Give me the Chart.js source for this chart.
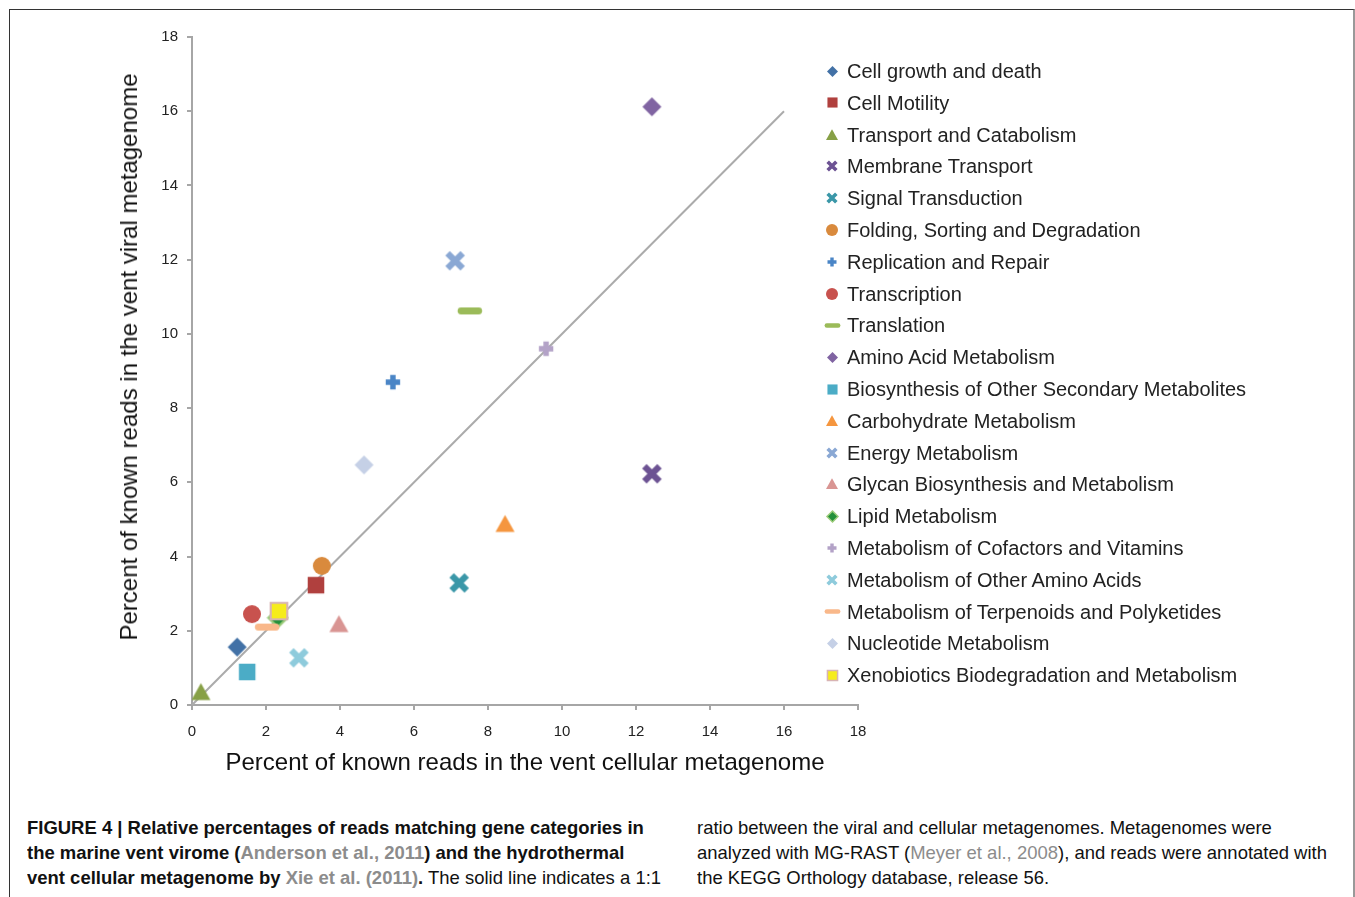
<!DOCTYPE html>
<html>
<head>
<meta charset="utf-8">
<script src="https://cdn.jsdelivr.net/npm/chart.js@4.4.1/dist/chart.umd.min.js"></script>
<style>
  body { margin: 0; background: #fff; font-family: "Liberation Sans", Arial, sans-serif; color: #222; }
  #page { position: relative; width: 1355px; height: 897px; overflow: hidden; }
  #frame { position: absolute; left: 9px; top: 9px; width: 1343px; height: 900px;
           border-top: 1.5px solid #333; border-left: 1.5px solid #333; border-right: 2px solid #999; }
  #wrap { position: absolute; left: 0; top: 0; width: 1355px; height: 800px; }
  .ytitle { position: absolute; left: 129px; top: 357px; transform: translate(-50%, -50%) rotate(-90deg);
            white-space: nowrap; font-size: 24px; color: #111; }
  .xtitle { position: absolute; left: 525px; top: 762px; transform: translate(-50%, -50%);
            white-space: nowrap; font-size: 24px; color: #111; }
  #legend { position: absolute; left: 822px; top: 0; }
  .item { position: absolute; left: 0; height: 24px; white-space: nowrap; font-size: 20px; color: #222; }
  .item canvas { position: absolute; left: 0; top: 0; }
  .item span { position: absolute; left: 25px; top: 0; line-height: 24px; }
  .cap { position: absolute; top: 815px; font-family: "Liberation Sans", Arial, sans-serif;
         font-size: 19px; line-height: 25px; white-space: nowrap; color: #111;
         transform: scaleX(0.972); transform-origin: 0 0; }
  .cap a { color: #8c8c8c; text-decoration: none; }
</style>
</head>
<body>
<div id="page">
  <div id="frame"></div>
  <div id="wrap"><canvas id="chart" width="1355" height="800"></canvas></div>
  <div class="ytitle">Percent of known reads in the vent viral metagenome</div>
  <div class="xtitle">Percent of known reads in the vent cellular metagenome</div>
  <div id="legend"></div>
  <div class="cap" style="left:27px"><b>FIGURE 4 | Relative percentages of reads matching gene categories in<br>the marine vent virome (<a>Anderson et al., 2011</a>) and the hydrothermal<br>vent cellular metagenome by <a>Xie et al. (2011)</a>.</b> The solid line indicates a 1:1</div>
  <div class="cap" style="left:697px">ratio between the viral and cellular metagenomes. Metagenomes were<br>analyzed with MG-RAST (<a>Meyer et al., 2008</a>), and reads were annotated with<br>the KEGG Orthology database, release 56.</div>
</div>
<script>
const categories = [
  'Cell growth and death', 'Cell Motility', 'Transport and Catabolism', 'Membrane Transport',
  'Signal Transduction', 'Folding, Sorting and Degradation', 'Replication and Repair', 'Transcription',
  'Translation', 'Amino Acid Metabolism', 'Biosynthesis of Other Secondary Metabolites',
  'Carbohydrate Metabolism', 'Energy Metabolism', 'Glycan Biosynthesis and Metabolism',
  'Lipid Metabolism', 'Metabolism of Cofactors and Vitamins', 'Metabolism of Other Amino Acids',
  'Metabolism of Terpenoids and Polyketides', 'Nucleotide Metabolism',
  'Xenobiotics Biodegradation and Metabolism'
];
// percent of known reads, cellular metagenome (x) and viral metagenome (y)
const cellular = [1.22, 3.35, 0.24, 12.43, 7.22, 3.51, 5.43, 1.62, 7.51, 12.43, 1.49, 8.46, 7.11, 3.97, 2.32, 9.57, 2.89, 2.03, 4.65, 2.35];
const viral    = [1.56, 3.23, 0.35, 6.23, 3.29, 3.75, 8.70, 2.45, 10.62, 16.12, 0.89, 4.88, 11.97, 2.18, 2.35, 9.60, 1.27, 2.10, 6.47, 2.53];
const ticks = [0, 2, 4, 6, 8, 10, 12, 14, 16, 18];
const oneToOne = [0, 16];

const shapes = ['diamond', 'square', 'triangle', 'x', 'x', 'circle', 'plus', 'circle', 'dash', 'diamond',
                'square', 'triangle', 'x', 'triangle', 'diamond', 'plus', 'x', 'dash', 'diamond', 'square'];
const colors = ['#4271a6', '#b0403e', '#87a046', '#6c5293', '#3a97a8', '#d98a3d', '#4a85c6', '#c8524e',
                '#9bbb59', '#8064a2', '#4bacc6', '#f5963f', '#8aa8d4', '#d99593', '#23903a', '#b3a2c7',
                '#8ecbdc', '#f9b88a', '#c5d0e6', '#f6ec1c'];
const strokes = {14: '#9ccc7a', 19: '#d8b4b4'};

function makeMarker(shape, fill, stroke, s) {
  const c = document.createElement('canvas');
  const w = shape === 'dash' ? Math.round(s * 1.5) + 4 : s + 4;
  c.width = w; c.height = s + 4;
  const g = c.getContext('2d');
  const cx = c.width / 2, cy = c.height / 2, r = s / 2;
  g.fillStyle = fill; g.strokeStyle = fill;
  g.beginPath();
  if (shape === 'diamond') {
    g.moveTo(cx, cy - r); g.lineTo(cx + r, cy); g.lineTo(cx, cy + r); g.lineTo(cx - r, cy); g.closePath(); g.fill();
  } else if (shape === 'square') {
    g.rect(cx - r * 0.92, cy - r * 0.92, r * 1.84, r * 1.84); g.fill();
  } else if (shape === 'triangle') {
    g.moveTo(cx, cy - r * 0.95); g.lineTo(cx + r, cy + r * 0.85); g.lineTo(cx - r, cy + r * 0.85); g.closePath(); g.fill();
  } else if (shape === 'circle') {
    g.arc(cx, cy, r, 0, Math.PI * 2); g.fill();
  } else if (shape === 'x') {
    const a = r * 0.72;
    g.lineWidth = s * 0.3;
    g.moveTo(cx - a, cy - a); g.lineTo(cx + a, cy + a);
    g.moveTo(cx + a, cy - a); g.lineTo(cx - a, cy + a); g.stroke();
  } else if (shape === 'plus') {
    const a = r * 0.9;
    g.lineWidth = s * 0.34;
    g.moveTo(cx - a, cy); g.lineTo(cx + a, cy);
    g.moveTo(cx, cy - a); g.lineTo(cx, cy + a); g.stroke();
  } else if (shape === 'dash') {
    const hw = s * 0.72, hh = s * 0.2;
    g.roundRect(cx - hw, cy - hh, hw * 2, hh * 2, hh); g.fill();
  }
  if (stroke) {
    g.lineWidth = Math.max(1.5, s * 0.12); g.strokeStyle = stroke; g.stroke();
  }
  return c;
}

const plotSize = {diamond: 19, square: 18, triangle: 19, circle: 18, x: 21, plus: 16, dash: 17};
const legendSize = {diamond: 11, square: 11, triangle: 12, circle: 12, x: 12, plus: 10, dash: 11};

const datasets = categories.map((name, i) => ({
  label: name,
  data: [{x: cellular[i], y: viral[i]}],
  pointStyle: makeMarker(shapes[i], colors[i], strokes[i], plotSize[shapes[i]]),
  pointRadius: 10,
  pointHoverRadius: 10,
  order: -i
}));
datasets.push({
  type: 'line',
  label: '1:1',
  data: oneToOne.map(v => ({x: v, y: v})),
  borderColor: '#ababab',
  borderWidth: 2,
  pointRadius: 0,
  fill: false,
  order: 100
});

const axisFont = {family: '"Liberation Sans", Arial, sans-serif', size: 15};

new Chart(document.getElementById('chart'), {
  type: 'scatter',
  data: {datasets: datasets},
  options: {
    responsive: false,
    animation: false,
    devicePixelRatio: 1,
    layout: {padding: {left: 152, right: 497, top: 37, bottom: 55}},
    plugins: {legend: {display: false}, tooltip: {enabled: false}},
    scales: {
      x: {
        type: 'linear', min: 0, max: 18,
        afterBuildTicks: s => { s.ticks = ticks.map(v => ({value: v})); },
        afterFit: s => { s.height = 40; },
        grid: {drawOnChartArea: false, tickLength: 5, color: '#a6a6a6', lineWidth: 2},
        border: {color: '#a6a6a6', width: 2},
        ticks: {color: '#222', font: axisFont, padding: 13, maxRotation: 0}
      },
      y: {
        type: 'linear', min: 0, max: 18,
        afterBuildTicks: s => { s.ticks = ticks.map(v => ({value: v})); },
        afterFit: s => { s.width = 40; },
        grid: {drawOnChartArea: false, tickLength: 5, color: '#a6a6a6', lineWidth: 2},
        border: {color: '#a6a6a6', width: 2},
        ticks: {color: '#222', font: axisFont, padding: 9}
      }
    }
  }
});

// legend
const legend = document.getElementById('legend');
categories.forEach((name, i) => {
  const item = document.createElement('div');
  item.className = 'item';
  item.style.top = (71 + i * 31.8 - 12) + 'px';
  const m = makeMarker(shapes[i], colors[i], strokes[i], legendSize[shapes[i]]);
  m.style.left = (10 - m.width / 2) + 'px';
  m.style.top = (12 - m.height / 2) + 'px';
  const t = document.createElement('span');
  t.textContent = name;
  item.appendChild(m);
  item.appendChild(t);
  legend.appendChild(item);
});
</script>
</body>
</html>
